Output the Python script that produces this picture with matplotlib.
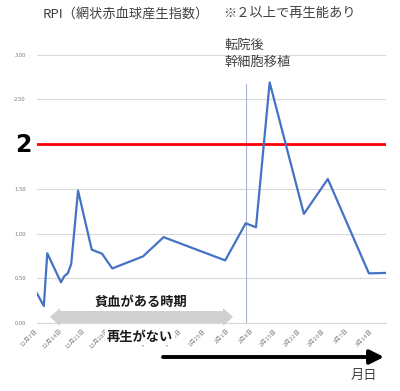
import matplotlib
matplotlib.use("Agg")
import matplotlib.pyplot as plt
import matplotlib.dates as mdates
from matplotlib.patches import Polygon
import numpy as np
import pandas as pd

plt.rcParams["font.family"] = ["Noto Sans CJK JP", "DejaVu Sans"]

# ── データ ──────────────────────────────────────────────
dates = pd.to_datetime([
    "2023-12-07", "2023-12-09", "2023-12-10", "2023-12-14", "2023-12-15",
    "2023-12-16", "2023-12-17", "2023-12-19", "2023-12-23", "2023-12-26",
    "2023-12-29", "2024-01-07", "2024-01-13", "2024-01-31", "2024-02-06",
    "2024-02-09", "2024-02-13", "2024-02-23", "2024-03-01", "2024-03-13",
    "2024-03-18",
])
rpi = [0.33, 0.19, 0.78, 0.455, 0.525,
       0.555, 0.66, 1.48, 0.82, 0.775,
       0.61, 0.745, 0.96, 0.70, 1.115,
       1.07, 2.69, 1.22, 1.61, 0.555,
       0.56]

threshold = 2.0
transfer_date = pd.Timestamp("2024-02-06")
transfer_line_top = 2.67

xtick_dates = pd.date_range("2023-12-07", "2024-03-14", freq="7D")
xtick_labels = [f"{d.month}月{d.day}日" for d in xtick_dates]
yticks = [0.0, 0.5, 1.0, 1.5, 2.0, 2.5, 3.0]
ytick_labels = ["" if v == 2.0 else f"{v:.2f}" for v in yticks]

W, H = 400, 391
fig = plt.figure(figsize=(W / 100, H / 100), dpi=100)


def fx(px):
    return px / W


def fy(py):
    return 1 - py / H


ax = fig.add_axes([fx(37), fy(323), fx(386) - fx(37), fy(54.7) - fy(323)])

ax.plot(dates, rpi, color="#4472C4", lw=1.6, zorder=4)
ax.axhline(threshold, color="#FF0000", lw=2, zorder=3)
ax.plot([transfer_date, transfer_date], [0, transfer_line_top],
        color="#A9B4D4", lw=0.8, zorder=2)

ax.set_xlim(pd.Timestamp("2023-12-07"), pd.Timestamp("2024-03-18"))
ax.set_ylim(0, 3)
ax.set_yticks(yticks)
ax.set_yticklabels(ytick_labels)
ax.set_xticks(xtick_dates)
ax.set_xticklabels(xtick_labels, rotation=45, ha="right", va="center",
                   rotation_mode="anchor")
ax.tick_params(axis="both", length=0, labelsize=4.3, colors="#808080")
ax.tick_params(axis="y", pad=8)
ax.tick_params(axis="x", pad=5)
ax.grid(axis="y", color="#D9D9D9", lw=0.8, zorder=0)
for s in ["top", "right", "left"]:
    ax.spines[s].set_visible(False)
ax.spines["bottom"].set_color("#D9D9D9")
ax.spines["bottom"].set_linewidth(0.8)

txt = "#404040"
fig.text(fx(43), fy(14), "RPI（網状赤血球産生指数）", fontsize=9.5,
         color=txt, va="center", ha="left")
fig.text(fx(223), fy(14), "※２以上で再生能あり", fontsize=9.5,
         color=txt, va="center", ha="left")
fig.text(fx(224), fy(46), "転院後", fontsize=9.5, color=txt,
         va="center", ha="left")
fig.text(fx(224), fy(62), "幹細胞移植", fontsize=9.5, color=txt,
         va="center", ha="left")
fig.text(fx(23), fy(145), "2", fontsize=17, fontweight="bold",
         color="black", va="center", ha="center", family="DejaVu Sans")

# 灰色の両矢印
x0, x1, yc = 50, 233, 317
bh, hh, hl = 6, 9, 10
pts = [(x0, yc), (x0 + hl, yc - hh), (x0 + hl, yc - bh), (x1 - hl, yc - bh),
       (x1 - hl, yc - hh), (x1, yc), (x1 - hl, yc + hh), (x1 - hl, yc + bh),
       (x0 + hl, yc + bh), (x0 + hl, yc + hh)]
fig.patches.append(Polygon([(fx(a), fy(b)) for a, b in pts], closed=True,
                           transform=fig.transFigure, facecolor="#D0D0D0",
                           edgecolor="none", zorder=5))

fig.text(fx(141), fy(302), "貧血がある時期", fontsize=9.5, fontweight="bold",
         color="#1a1a1a", va="center", ha="center")
fig.text(fx(140), fy(337), "再生がない", fontsize=9.5, fontweight="bold",
         color="#1a1a1a", va="center", ha="center", zorder=10,
         bbox=dict(facecolor="white", edgecolor="none", pad=1))

# 黒い矢印
fig.add_artist(matplotlib.patches.FancyArrowPatch(
    (fx(163), fy(357)), (fx(384), fy(357)), transform=fig.transFigure,
    arrowstyle="-|>,head_length=0.7,head_width=0.35", mutation_scale=12,
    color="black", lw=2.8, shrinkA=0, shrinkB=0))

fig.text(fx(364), fy(375), "月日", fontsize=9.5, color=txt,
         va="center", ha="center")

fig.savefig("out.png", dpi=100)
